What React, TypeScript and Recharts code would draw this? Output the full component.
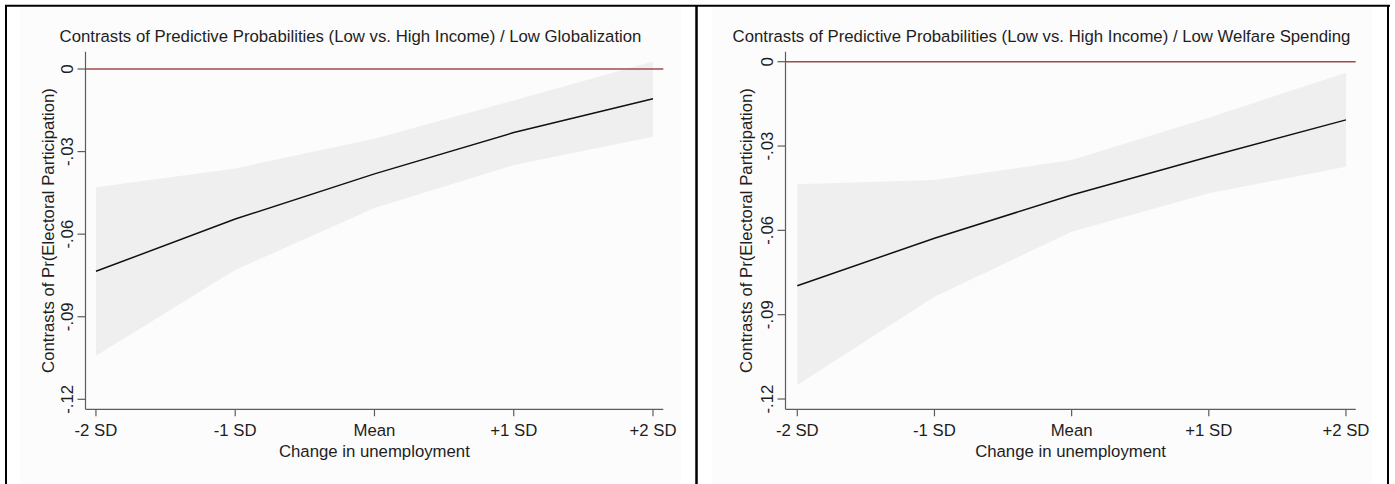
import React from "react";
import { ComposedChart, Area, Line, XAxis, YAxis, ReferenceLine } from "recharts";

const categories = ["-2 SD", "-1 SD", "Mean", "+1 SD", "+2 SD"];
const xPositions = [-2, -1, 0, 1, 2];
const yTicks = [0, -0.03, -0.06, -0.09, -0.12];
const yTickLabels = ["0", "-.03", "-.06", "-.09", "-.12"];

const globEstimate = [-0.0735, -0.0545, -0.0381, -0.0231, -0.0108];
const globUpper = [-0.043, -0.0361, -0.0253, -0.0114, 0.0027];
const globLower = [-0.1042, -0.073, -0.0505, -0.0349, -0.0246];

const welfEstimate = [-0.0797, -0.0628, -0.0474, -0.0338, -0.0207];
const welfUpper = [-0.0436, -0.0421, -0.035, -0.0199, -0.0039];
const welfLower = [-0.115, -0.0836, -0.0605, -0.0468, -0.0374];

const FONT = "'Liberation Sans', Arial, sans-serif";
const FS = 16.75;
const TXT = "#1e1e1e";
const AXIS = "#5c5c5c";

function build(est: number[], lo: number[], hi: number[]) {
  return xPositions.map((x, i) => ({
    x,
    cat: categories[i],
    est: est[i],
    band: [lo[i], hi[i]],
  }));
}

const YTick = (props: any) => {
  const { x, y, payload } = props;
  const idx = yTicks.findIndex((t) => Math.abs(t - payload.value) < 1e-9);
  const label = idx >= 0 ? yTickLabels[idx] : String(payload.value);
  const tx = x - 2.8;
  return (
    <text
      x={tx}
      y={y}
      transform={`rotate(-90 ${tx} ${y})`}
      textAnchor="middle"
      fontFamily={FONT}
      fontSize={FS}
      fill={TXT}
    >
      {label}
    </text>
  );
};

const xFmt = (v: number) => {
  const i = xPositions.indexOf(v);
  return i >= 0 ? categories[i] : "";
};

type PanelProps = {
  left: number;
  width: number;
  marginLeft: number;
  marginRight: number;
  xDomain: [number, number];
  yDomain: [number, number];
  data: any[];
};

function Panel({ left, width, marginLeft, marginRight, xDomain, yDomain, data }: PanelProps) {
  return (
    <div style={{ position: "absolute", left, top: 0 }}>
      <ComposedChart
        width={width}
        height={484}
        data={data}
        margin={{ top: 51.7, bottom: 44.7, left: marginLeft, right: marginRight }}
      >
        <ReferenceLine y={0} stroke="#a04a4c" strokeWidth={1.4} ifOverflow="extendDomain" />
        <Area
          type="linear"
          dataKey="band"
          fill="#efefef"
          fillOpacity={1}
          stroke="none"
          isAnimationActive={false}
          dot={false}
          activeDot={false}
        />
        <Line
          type="linear"
          dataKey="est"
          stroke="#111"
          strokeWidth={1.5}
          dot={false}
          activeDot={false}
          isAnimationActive={false}
        />
        <XAxis
          type="number"
          dataKey="x"
          domain={xDomain}
          allowDataOverflow
          ticks={xPositions}
          tickFormatter={xFmt}
          interval={0}
          height={30}
          tickSize={7}
          tickMargin={7.5}
          stroke={AXIS}
          strokeWidth={1.2}
          tick={{ fill: TXT, fontSize: FS, fontFamily: FONT }}
          tickLine={{ stroke: AXIS }}
        />
        <YAxis
          type="number"
          domain={yDomain}
          allowDataOverflow
          ticks={yTicks}
          interval={0}
          width={40}
          tickSize={8}
          tickMargin={2}
          stroke={AXIS}
          strokeWidth={1.2}
          tick={<YTick />}
          tickLine={{ stroke: AXIS }}
        />
      </ComposedChart>
    </div>
  );
}

export default function App() {
  const leftData = build(globEstimate, globLower, globUpper);
  const rightData = build(welfEstimate, welfLower, welfUpper);
  return (
    <div style={{ position: "absolute", left: 0, top: 0, width: 1395, height: 484, background: "#fff", overflow: "hidden" }}>
      <svg width={1395} height={484} style={{ position: "absolute", left: 0, top: 0 }}>
        <rect x={20} y={7} width={661} height={477} fill="#fcfcfc" />
        <rect x={712} y={7} width={660} height={477} fill="#fcfcfc" />
      </svg>
      <Panel
        left={0}
        width={697}
        marginLeft={45.5}
        marginRight={33.7}
        xDomain={[-2.075, 2.074]}
        yDomain={[-0.12363, 0.00629]}
        data={leftData}
      />
      <Panel
        left={697}
        width={698}
        marginLeft={48.5}
        marginRight={39.3}
        xDomain={[-2.086, 2.071]}
        yDomain={[-0.12366, 0.00356]}
        data={rightData}
      />
      <svg width={1395} height={484} style={{ position: "absolute", left: 0, top: 0, pointerEvents: "none" }}>
        <line x1={5} y1={5.8} x2={1390} y2={5.8} stroke="#000" strokeWidth={2} />
        <line x1={6} y1={5} x2={6} y2={484} stroke="#000" strokeWidth={2} />
        <line x1={696.5} y1={5} x2={696.5} y2={484} stroke="#000" strokeWidth={2.5} />
        <line x1={1388} y1={5} x2={1388} y2={484} stroke="#000" strokeWidth={2} />
        <g fontFamily={FONT} fontSize={FS} fill={TXT}>
          <text x={350.5} y={42.3} textAnchor="middle">
            Contrasts of Predictive Probabilities (Low vs. High Income) / Low Globalization
          </text>
          <text x={1041.5} y={42.3} textAnchor="middle">
            Contrasts of Predictive Probabilities (Low vs. High Income) / Low Welfare Spending
          </text>
          <text x={374.4} y={456.7} textAnchor="middle">Change in unemployment</text>
          <text x={1070.6} y={456.7} textAnchor="middle">Change in unemployment</text>
          <text x={53.5} y={230.5} textAnchor="middle" transform="rotate(-90 53.5 230.5)">
            Contrasts of Pr(Electoral Participation)
          </text>
          <text x={751.9} y={230.5} textAnchor="middle" transform="rotate(-90 751.9 230.5)">
            Contrasts of Pr(Electoral Participation)
          </text>
        </g>
      </svg>
    </div>
  );
}
